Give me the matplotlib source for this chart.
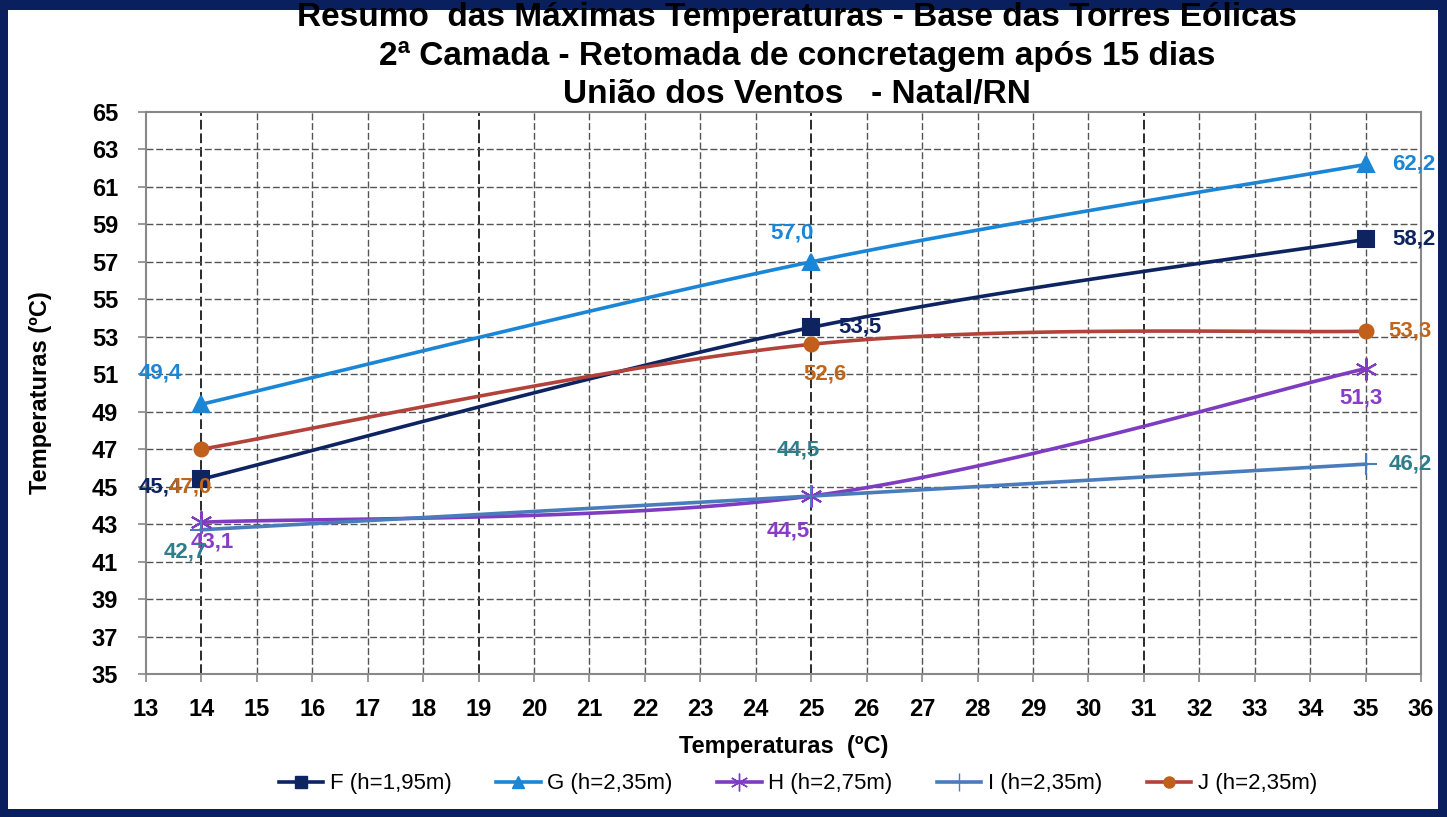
import numpy as np
import matplotlib
matplotlib.use("Agg")
import matplotlib.pyplot as plt
from matplotlib.patches import Rectangle

# dados
temps = [14, 25, 35]
F = [45.4, 53.5, 58.2]
G = [49.4, 57.0, 62.2]
H = [43.1, 44.5, 51.3]
I = [42.7, 44.5, 46.2]
J = [47.0, 52.6, 53.3]
nomes = ["F (h=1,95m)", "G (h=2,35m)", "H (h=2,75m)", "I (h=2,35m)", "J (h=2,35m)"]

plt.rcParams['font.family'] = ['Liberation Sans', 'DejaVu Sans']


def suave(x, y, n=60):
	# curva suavizada tipo excel (bezier com tangentes catmull-rom)
	x = np.asarray(x, float)
	y = np.asarray(y, float)
	P = np.column_stack([x, y])
	out = []
	for i in range(len(P) - 1):
		p0 = P[i - 1] if i > 0 else P[i]
		p3 = P[i + 2] if i + 2 < len(P) else P[i + 1]
		c1 = P[i] + (P[i + 1] - p0) / 6
		c2 = P[i + 1] - (p3 - P[i]) / 6
		t = np.linspace(0, 1, n)[:, None]
		seg = (1 - t)**3 * P[i] + 3 * (1 - t)**2 * t * c1 + 3 * (1 - t) * t**2 * c2 + t**3 * P[i + 1]
		out.append(seg)
	c = np.vstack(out)
	return c[:, 0], c[:, 1]


fig = plt.figure(figsize=(14.47, 8.17), dpi=100)
fig.patch.set_facecolor('#0a1f5e')
fig.patches.append(Rectangle((8 / 1447, 8 / 817), 1 - 17 / 1447, 1 - 18 / 817,
	transform=fig.transFigure, facecolor='white', edgecolor='none', zorder=-5))

ax = fig.add_axes([146 / 1447, 1 - 674 / 817, (1421 - 146) / 1447, (674 - 112) / 817])
ax.set_zorder(2)
ax.set_xlim(13, 36)
ax.set_ylim(35, 65)
ax.set_xticks(range(13, 37))
ax.set_yticks(range(35, 66, 2))

for xv in range(14, 37):
	escuro = xv in (14, 19, 25, 31, 36)
	ax.axvline(xv, color='#2a2a2a' if escuro else '#555555', lw=1.4 if escuro else 1.0,
		dashes=(5, 2), zorder=1)
for yv in range(37, 65, 2):
	ax.axhline(yv, color='#555555', lw=1.0, dashes=(5, 2), zorder=1)

for s in ax.spines.values():
	s.set_color('#888888')
	s.set_linewidth(1.5)
ax.tick_params(direction='out', length=6, color='#888888', width=1.2, labelsize=17)
ax.tick_params(axis='x', pad=11)
ax.tick_params(axis='y', pad=14)
for lb in ax.get_xticklabels() + ax.get_yticklabels():
	lb.set_fontweight('bold')

series = [
	(F, '#0d2461', 's', 11, '#0d2461', '#0d2461'),
	(G, '#1b86d6', '^', 11, '#1b86d6', '#1b86d6'),
	(H, '#7f3cc0', (6, 2, 0), 16, '#7f3cc0', '#8a3cc8'),
	(I, '#4a7cbc', '+', 16, '#4a7cbc', '#2e7c8c'),
	(J, '#b2423a', 'o', 10, '#c0601c', '#c0661a'),
]
handles = []
for (vals, cor, mk, ms, mcor, lcor), nome in zip(series, nomes):
	xs, ys = suave(temps, vals)
	ax.plot(xs, ys, color=cor, lw=2.6, zorder=3)
	ax.plot(temps, vals, ls='none', marker=mk, ms=ms, color=mcor, mew=1.5, zorder=4)
	h, = ax.plot([], [], color=cor, lw=2.6, marker=mk, ms=ms * 0.8, mfc=mcor, mec=mcor, label=nome)
	handles.append(h)

# rotulos: (serie, indice, deslocamento em pixels, alinhamento)
rotulos = [
	(1, 0, (-41, 31), 'center'), (1, 1, (-19, 29), 'center'), (1, 2, (27, 0), 'left'),
	(0, 0, (-41, -8), 'center'), (0, 1, (27, 0), 'left'), (0, 2, (27, 0), 'left'),
	(4, 0, (-11, -38), 'center'), (4, 1, (14, -30), 'center'), (4, 2, (23, 0), 'left'),
	(2, 0, (11, -20), 'center'), (2, 1, (-23, -35), 'center'), (2, 2, (-5, -29), 'center'),
	(3, 0, (-16, -22), 'center'), (3, 1, (-13, 46), 'center'), (3, 2, (23, 0), 'left'),
]
for si, k, (dx, dy), ha in rotulos:
	vals = series[si][0]
	ax.annotate(f"{vals[k]:.1f}".replace('.', ','), (temps[k], vals[k]),
		xytext=(dx * 0.72, dy * 0.72), textcoords='offset points', ha=ha, va='center',
		fontsize=16, fontweight='bold', color=series[si][5], zorder=5)

ax.set_xlabel("Temperaturas  (ºC)", fontsize=17, fontweight='bold', labelpad=10)
ax.set_ylabel("Temperaturas (ºC)", fontsize=17, fontweight='bold', labelpad=29)

fig.text(797 / 1447, 1 - 56 / 817,
	"Resumo  das Máximas Temperaturas - Base das Torres Eólicas\n"
	"2ª Camada - Retomada de concretagem após 15 dias\n"
	"União dos Ventos   - Natal/RN",
	ha='center', va='center', fontsize=24, fontweight='bold', linespacing=1.32)

fig.legend(handles=handles, loc='center', bbox_to_anchor=(798 / 1447, 1 - 784 / 817), ncol=5,
	frameon=False, prop={'size': 16}, handlelength=2.0, handletextpad=0.3,
	columnspacing=2.0)

fig.savefig("out.png", dpi=100, facecolor=fig.get_facecolor())
